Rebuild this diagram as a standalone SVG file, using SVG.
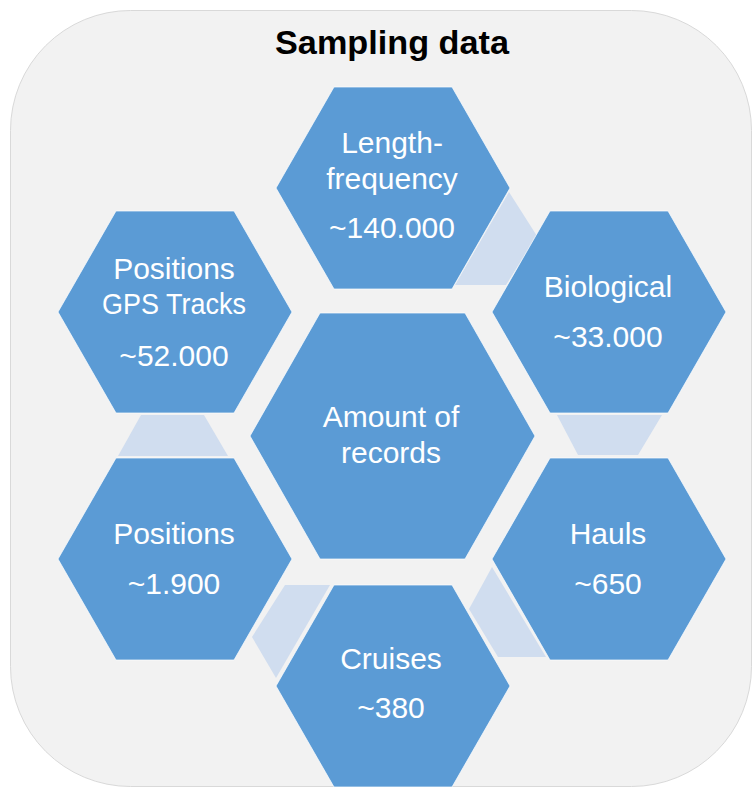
<svg xmlns="http://www.w3.org/2000/svg" width="756" height="789" viewBox="0 0 756 789">
<style>
.bg{fill:#F2F2F2;stroke:#D9D9D9;stroke-width:1}
.hex{fill:#5B9BD5;stroke:#FFFFFF;stroke-width:1;stroke-opacity:0.7}
.con{fill:#D0DDEF}
.t{font-family:"Liberation Sans",Arial,sans-serif;font-size:30px;fill:#FFFFFF;text-anchor:middle}
.title{font-family:"Liberation Sans",Arial,sans-serif;font-size:33px;font-weight:bold;fill:#000000;text-anchor:middle}
</style>
<rect class="bg" x="10.5" y="10.5" width="741" height="776" rx="120" ry="120"/>
<text class="title" x="392" y="54" textLength="234" lengthAdjust="spacingAndGlyphs">Sampling data</text>
<g id="connectors">
<polygon class="con" points="509,192 537,236 506,285 455,285"/>
<polygon class="con" points="557,415 662,415 638,455 578,455"/>
<polygon class="con" points="492,567 469,609 498,657 546,657"/>
<polygon class="con" points="285,585 330,585 276,678 252,637"/>
<polygon class="con" points="141,415 204,415 228,456 118,456"/>
</g>
<g id="center">
<polygon class="hex" points="250,436 320,313 465,313 535,436 465,559 320,559"/>
<text class="t" x="391" y="427">Amount of</text>
<text class="t" x="391" y="463">records</text>
</g>
<g id="length-frequency">
<polygon class="hex" points="276,188 334,87 452,87 510,188 452,289 334,289"/>
<text class="t" x="392" y="153">Length-</text>
<text class="t" x="392" y="189">frequency</text>
<text class="t" x="392" y="238">~140.000</text>
</g>
<g id="biological">
<polygon class="hex" points="492,312 550,211 668,211 726,312 668,413 550,413"/>
<text class="t" x="608" y="297">Biological</text>
<text class="t" x="608" y="347">~33.000</text>
</g>
<g id="hauls">
<polygon class="hex" points="492,559 550,458 668,458 726,559 668,660 550,660"/>
<text class="t" x="608" y="544">Hauls</text>
<text class="t" x="608" y="594">~650</text>
</g>
<g id="cruises">
<polygon class="hex" points="276,686 334,585 452,585 510,686 452,787 334,787"/>
<text class="t" x="391" y="669">Cruises</text>
<text class="t" x="391" y="718">~380</text>
</g>
<g id="positions">
<polygon class="hex" points="58,559 116,458 234,458 292,559 234,660 116,660"/>
<text class="t" x="174" y="544">Positions</text>
<text class="t" x="174" y="594">~1.900</text>
</g>
<g id="positions-gps">
<polygon class="hex" points="58,312 116,211 234,211 292,312 234,413 116,413"/>
<text class="t" x="174" y="279">Positions</text>
<text class="t" x="174" y="314" textLength="144" lengthAdjust="spacingAndGlyphs">GPS Tracks</text>
<text class="t" x="174" y="366">~52.000</text>
</g>
</svg>
